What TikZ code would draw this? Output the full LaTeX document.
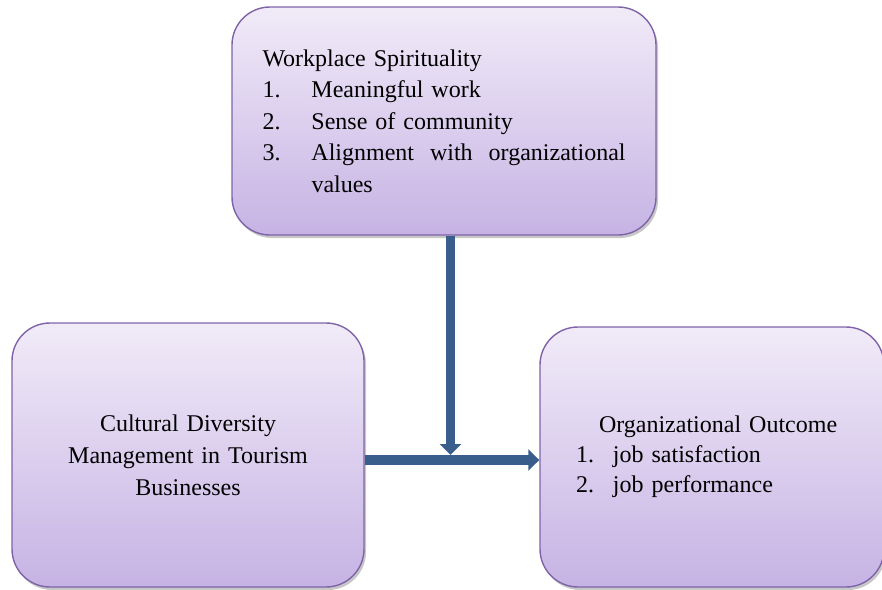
\documentclass[tikz,border=0pt]{standalone}
\usepackage{fontspec}
\setmainfont{Liberation Serif}
\usetikzlibrary{arrows.meta,shadows}
\definecolor{boxtop}{HTML}{F1EBF8}
\definecolor{boxbot}{HTML}{C6B3E4}
\definecolor{boxline}{HTML}{7F63A9}
\definecolor{arrowblue}{HTML}{3A5E8B}
\tikzset{
  purplebox/.style={draw=boxline, line width=1.4pt, rounded corners=38pt,
    top color=boxtop, bottom color=boxbot,
    drop shadow={shadow xshift=2pt, shadow yshift=-3pt, fill=black, opacity=0.22},
    font=\fontsize{24}{31.5}\selectfont, inner sep=0pt},
  flowarrow/.style={draw=arrowblue, line width=9.5pt,
    -{Triangle[width=21pt,length=11pt]}, color=arrowblue}
}
\begin{document}
\begin{tikzpicture}[x=1pt,y=-1pt]
\useasboundingbox (0,0) rectangle (882,589);
\fill[white] (0,0) rectangle (882,589);

\node[purplebox, minimum width=424pt, minimum height=228pt,
      text width=363pt, align=left] (ws) at (444,121)
  {Workplace Spirituality\\
   \makebox[49pt][l]{1.}Meaningful work\\
   \makebox[49pt][l]{2.}Sense of community\\
   \makebox[49pt][l]{3.}\hbox to 314pt{Alignment\hfill with\hfill organizational}\\
   \hspace*{49pt}values};

\node[purplebox, minimum width=352pt, minimum height=264pt,
      text width=330pt, align=center, font=\fontsize{24}{32}\selectfont] (cd) at (188,455)
  {Cultural Diversity\\Management in Tourism\\Businesses};

\node[purplebox, minimum width=344pt, minimum height=260pt,
      text width=272pt, align=left, font=\fontsize{24}{30}\selectfont] (oo) at (712,457)
  {\hspace*{23pt}Organizational Outcome\\
   \makebox[37pt][l]{1.}job satisfaction\\
   \makebox[37pt][l]{2.}job performance};

\coordinate (meet) at (450.5,455);
\draw[flowarrow] (cd.east |- 0,460) -- (oo.west |- 0,460);
\draw[flowarrow] (ws.south -| meet) -- (meet);
\end{tikzpicture}
\end{document}
